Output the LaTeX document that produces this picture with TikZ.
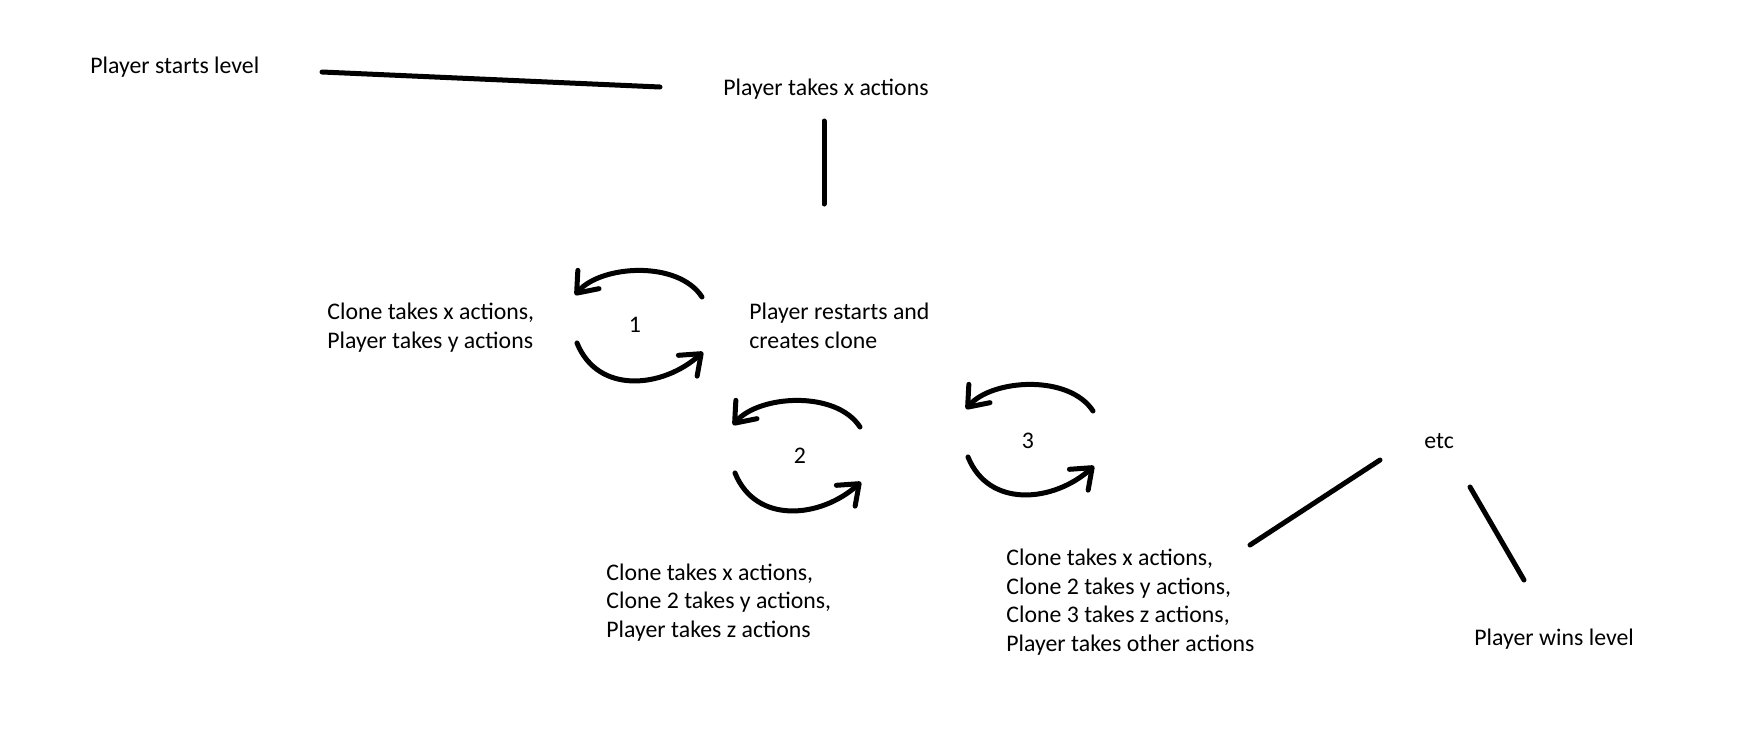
\documentclass[tikz,border=0pt]{standalone}
\usepackage{fontspec}
\setmainfont{Carlito}
\usetikzlibrary{arrows.meta}
\begin{document}
\begin{tikzpicture}[x=0.5pt,y=-0.5pt,
  lbl/.style={inner sep=0pt, font=\fontsize{11.9}{14.25}\selectfont, anchor=base west, align=left},
  num/.style={inner sep=0pt, font=\fontsize{11.9}{14.25}\selectfont, anchor=base},
  stroke/.style={line width=2.5pt, line cap=round, line join=round},
  arr/.style={stroke, -{Straight Barb[length=9pt,width=14pt,round]}},
  swirl/.pic={
    \draw[arr] (64,-28) .. controls (40,-65) and (-37,-60) .. (-63,-30);
    \draw[arr] (-61,18) .. controls (-40,70) and (25,63) .. (65,27);
  }]
\useasboundingbox[fill=white] (0,0) rectangle (1750,750);

% texts (multi-line nodes: base = baseline of last line)
\node[lbl] (start) at (90,73) {Player starts level};
\node[lbl] (takex) at (723,95) {Player takes x actions};
\node[lbl] (c1) at (327,348) {Clone takes x actions,\\Player takes y actions};
\node[lbl] (restart) at (749,348) {Player restarts and\\creates clone};
\node[lbl] (c2) at (606,637) {Clone takes x actions,\\Clone 2 takes y actions,\\Player takes z actions};
\node[lbl] (c3) at (1006,651) {Clone takes x actions,\\Clone 2 takes y actions,\\Clone 3 takes z actions,\\Player takes other actions};
\node[lbl] (etc) at (1424,448) {etc};
\node[lbl] (win) at (1474,645) {Player wins level};

% loop numbers
\node[num] (n1) at (635,332) {1};
\node[num] (n2) at (800,463) {2};
\node[num] (n3) at (1028,448) {3};

% loops
\pic at (638,325) {swirl};
\pic at (796,455) {swirl};
\pic at (1029,439) {swirl};

% connector end points
\coordinate (a1) at (322,72);
\coordinate (a2) at (660,87);
\coordinate (b1) at (824,121);
\coordinate (b2) at (824,204);
\coordinate (e1) at (1250,545);
\coordinate (e2) at (1380,460);
\coordinate (w1) at (1470,487);
\coordinate (w2) at (1524,580);

\draw[stroke] (a1) -- (a2);
\draw[stroke] (b1) -- (b2);
\draw[stroke] (e1) -- (e2);
\draw[stroke] (w1) -- (w2);
\end{tikzpicture}
\end{document}
